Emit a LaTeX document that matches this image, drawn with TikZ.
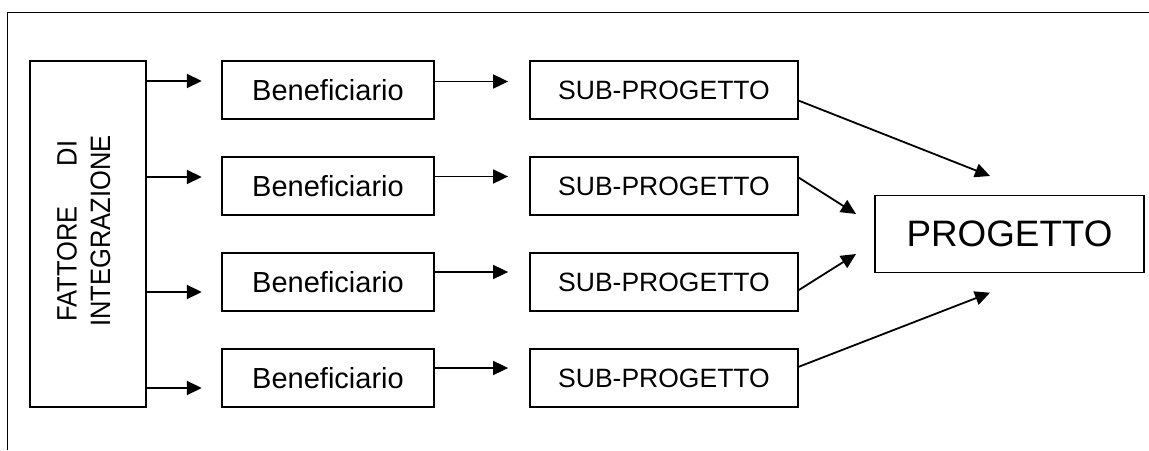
\documentclass[tikz,border=0pt]{standalone}
\usepackage{fontspec}
\setmainfont{Liberation Sans}
\usetikzlibrary{arrows.meta}
\begin{document}
\begin{tikzpicture}[x=1pt,y=-1pt,
  box/.style={draw, line width=1.8pt, inner sep=0pt, minimum height=58pt},
  benbox/.style={box, minimum width=212pt, font=\fontsize{29}{34}\selectfont},
  subbox/.style={box, minimum width=268pt, font=\fontsize{26.5}{32}\selectfont},
  progbox/.style={box, minimum width=269pt, minimum height=77pt, font=\fontsize{36.8}{44}\selectfont},
  arr/.style={-{Triangle[length=15pt,width=14pt]}, line width=1.8pt},
  frameline/.style={line width=1.5pt}]
\useasboundingbox (0,0) rectangle (1149,450);
\draw[frameline] (7.5,450) -- (7.5,12.5) -- (1149,12.5);
% integration factor box
\node[box, minimum width=116pt, minimum height=346pt] (fat) at (88,234) {};
\node[rotate=90, inner sep=0pt] (fattxt) at (86.7,231)
  {\scalebox{1}[1.1]{\fontsize{25.5}{30.4}\selectfont\begin{tabular}{@{}c@{}}FATTORE\hspace{40pt}DI\\INTEGRAZIONE\end{tabular}}};
% rows
\foreach \i/\y in {1/90,2/186,3/282,4/378} {
  \node[benbox] (ben\i) at (328,\y) {Beneficiario};
  \node[subbox] (sub\i) at (664,\y) {SUB-PROGETTO};
}
\node[progbox] (prog) at (1009.5,234) {PROGETTO};
% arrows from integration factor
\foreach \i/\y in {1/81,2/177,3/292,4/388}
  \draw[arr, shorten >=19.3pt] (fat.east |- 0,\y) -- (ben\i.west |- 0,\y);
% arrows beneficiario -> sub-progetto
\foreach \i/\y in {1/81.5,2/176.5,3/272,4/368}
  \draw[arr, shorten >=21pt] (ben\i.east |- 0,\y) -- (sub\i.west |- 0,\y);
% arrows sub-progetto -> progetto
\coordinate (t1) at (990,176);
\coordinate (t2) at (856,214);
\coordinate (t3) at (856,254);
\coordinate (t4) at (990,292.7);
\draw[arr] (sub1.east |- 0,100.7) -- (t1);
\draw[arr] (sub2.east |- 0,177.7) -- (t2);
\draw[arr] (sub3.east |- 0,290) -- (t3);
\draw[arr] (sub4.east |- 0,366.7) -- (t4);
\end{tikzpicture}
\end{document}
